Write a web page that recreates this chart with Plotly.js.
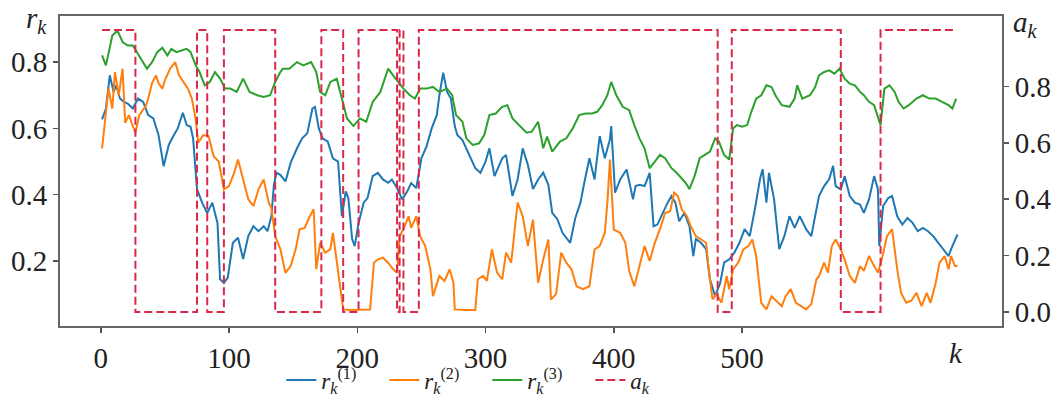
<!DOCTYPE html>
<html>
<head>
<meta charset="utf-8">
<script src="https://cdn.plot.ly/plotly-3.0.1.min.js"></script>
<style>html,body{margin:0;padding:0;background:#fff;}#chart{width:1051px;height:398px;}</style>
</head>
<body>
<div id="chart"></div>
<script>
// r_k^(1) (blue)
const k1 = [1,4,7,10,12,15,18,21,25,29,33,37,41,45,49,53,57,60,64,67,70,72,75,79,83,87,91,93,96,99,103,107,111,115,119,123,127,130,133,135,137,140,144,148,153,157,161,165,167,170,173,177,181,185,188,191,193,196,198,201,205,208,212,216,220,224,227,231,235,239,242,246,250,254,258,262,264,267,270,273,276,278,282,286,292,296,300,303,307,313,316,321,325,329,333,337,341,345,349,352,356,360,366,370,374,377,381,385,389,393,397,398,401,405,410,415,417,420,424,428,431,434,438,442,445,448,451,455,459,462,464,468,472,475,479,483,486,490,494,498,502,506,510,514,516,519,521,525,529,533,537,541,545,550,554,557,560,564,568,571,573,577,580,584,588,592,595,599,603,606,607,610,614,617,621,625,629,633,637,641,645,649,653,657,661,663,665,668];
const r1 = [0.627,0.66,0.76,0.71,0.73,0.69,0.68,0.675,0.66,0.69,0.68,0.64,0.63,0.58,0.486,0.55,0.58,0.60,0.647,0.61,0.605,0.57,0.417,0.376,0.345,0.376,0.315,0.145,0.134,0.15,0.255,0.27,0.206,0.275,0.305,0.29,0.305,0.29,0.335,0.43,0.466,0.46,0.44,0.496,0.54,0.57,0.585,0.66,0.665,0.60,0.57,0.56,0.51,0.50,0.335,0.41,0.39,0.266,0.245,0.315,0.376,0.39,0.456,0.466,0.446,0.436,0.446,0.42,0.386,0.41,0.435,0.42,0.51,0.546,0.60,0.64,0.70,0.768,0.71,0.69,0.607,0.58,0.565,0.53,0.48,0.466,0.50,0.54,0.456,0.51,0.52,0.396,0.446,0.54,0.49,0.417,0.446,0.466,0.43,0.345,0.326,0.285,0.255,0.33,0.376,0.436,0.51,0.446,0.577,0.51,0.567,0.607,0.406,0.446,0.476,0.386,0.426,0.43,0.426,0.466,0.305,0.31,0.345,0.376,0.396,0.376,0.32,0.345,0.305,0.215,0.266,0.255,0.236,0.145,0.094,0.134,0.195,0.205,0.225,0.255,0.296,0.275,0.356,0.447,0.477,0.376,0.466,0.386,0.236,0.275,0.335,0.30,0.335,0.296,0.275,0.335,0.396,0.426,0.447,0.487,0.426,0.416,0.456,0.396,0.376,0.37,0.345,0.386,0.456,0.416,0.245,0.366,0.39,0.396,0.335,0.31,0.33,0.315,0.29,0.30,0.29,0.275,0.255,0.236,0.215,0.236,0.255,0.28];

// r_k^(2) (orange)
const k2 = [1,4,6,9,11,14,17,19,22,24,27,30,32,35,37,40,43,45,48,50,54,58,61,65,68,71,74,76,80,84,88,92,96,100,104,107,111,115,119,123,127,131,133,136,140,144,148,152,155,159,163,166,168,171,175,179,181,184,187,189,194,199,205,210,213,216,220,224,228,231,233,236,240,242,246,249,253,257,259,262,264,268,272,275,276,284,292,294,298,301,305,309,313,316,320,325,329,333,337,341,345,349,351,355,359,363,367,371,376,381,385,389,393,395,397,400,405,409,412,416,420,424,428,432,436,440,444,447,450,453,457,460,464,468,472,474,477,480,484,488,490,493,497,501,505,508,511,515,519,523,527,531,534,538,542,546,550,554,558,560,564,567,570,573,577,580,584,588,592,595,599,603,606,609,613,617,619,621,624,628,632,636,640,644,647,651,654,658,661,663,666,668];
const r2 = [0.54,0.64,0.72,0.66,0.77,0.70,0.78,0.617,0.64,0.617,0.587,0.64,0.65,0.667,0.69,0.737,0.76,0.737,0.72,0.745,0.78,0.80,0.76,0.737,0.72,0.69,0.627,0.557,0.58,0.577,0.516,0.50,0.416,0.426,0.466,0.506,0.446,0.386,0.366,0.416,0.446,0.376,0.36,0.275,0.236,0.164,0.185,0.236,0.296,0.30,0.335,0.356,0.175,0.255,0.225,0.236,0.285,0.195,0.104,0.054,0.052,0.052,0.052,0.054,0.195,0.205,0.21,0.195,0.175,0.165,0.275,0.296,0.335,0.30,0.335,0.275,0.245,0.175,0.094,0.134,0.155,0.14,0.175,0.134,0.054,0.052,0.052,0.145,0.155,0.14,0.235,0.165,0.145,0.225,0.195,0.376,0.335,0.245,0.325,0.134,0.205,0.265,0.084,0.10,0.225,0.195,0.175,0.124,0.115,0.124,0.235,0.245,0.285,0.376,0.506,0.295,0.285,0.255,0.17,0.124,0.185,0.245,0.20,0.255,0.296,0.345,0.35,0.406,0.396,0.356,0.335,0.305,0.275,0.265,0.255,0.175,0.084,0.10,0.074,0.155,0.115,0.175,0.195,0.235,0.245,0.265,0.215,0.074,0.054,0.094,0.08,0.064,0.094,0.115,0.074,0.064,0.054,0.07,0.145,0.154,0.195,0.165,0.245,0.265,0.235,0.205,0.155,0.134,0.185,0.17,0.215,0.185,0.165,0.205,0.275,0.296,0.235,0.175,0.104,0.074,0.08,0.104,0.064,0.104,0.074,0.134,0.195,0.215,0.175,0.215,0.185,0.185];

// r_k^(3) (green)
const k3 = [1,4,9,13,17,21,25,31,36,40,44,48,52,55,59,63,67,70,74,77,81,85,89,93,97,101,106,111,116,122,127,132,136,140,142,147,153,158,164,168,171,175,179,184,188,192,197,202,207,212,218,224,228,232,236,241,245,249,254,259,264,270,274,277,282,285,290,295,299,303,308,313,317,321,327,332,336,341,345,348,352,358,363,368,373,378,383,387,391,395,398,402,407,412,416,420,424,428,432,436,440,445,449,453,456,459,463,467,471,475,479,482,486,490,493,496,500,504,507,511,515,519,523,526,531,537,541,543,547,553,557,560,564,568,572,576,580,584,588,592,595,599,603,606,608,611,615,619,622,626,630,636,641,646,651,656,661,664,667];
const r3 = [0.82,0.79,0.88,0.895,0.86,0.85,0.85,0.81,0.78,0.80,0.83,0.843,0.82,0.84,0.83,0.835,0.84,0.83,0.79,0.77,0.73,0.74,0.77,0.75,0.72,0.72,0.71,0.75,0.71,0.70,0.695,0.70,0.74,0.77,0.78,0.78,0.80,0.79,0.80,0.77,0.71,0.70,0.74,0.75,0.69,0.63,0.607,0.63,0.62,0.68,0.71,0.78,0.76,0.74,0.72,0.70,0.69,0.72,0.72,0.725,0.71,0.72,0.70,0.64,0.62,0.57,0.55,0.555,0.58,0.64,0.645,0.665,0.67,0.63,0.607,0.587,0.59,0.62,0.54,0.575,0.53,0.56,0.57,0.60,0.64,0.645,0.645,0.65,0.67,0.70,0.74,0.70,0.665,0.655,0.61,0.57,0.54,0.48,0.50,0.52,0.51,0.48,0.466,0.447,0.436,0.417,0.456,0.51,0.52,0.53,0.57,0.56,0.52,0.506,0.60,0.61,0.605,0.61,0.647,0.69,0.70,0.73,0.725,0.70,0.67,0.665,0.69,0.73,0.69,0.70,0.725,0.76,0.77,0.775,0.765,0.78,0.75,0.735,0.73,0.71,0.70,0.68,0.67,0.63,0.61,0.72,0.73,0.71,0.68,0.66,0.67,0.69,0.70,0.69,0.69,0.68,0.67,0.66,0.69];

// a_k switching points (value holds until next point)
const kA = [1,27,75,83,96,136,172,189,201,231,233,236,248,481,492,577,608,667];
const aK = [1,0,1,0,1,0,1,0,1,0,1,0,1,0,1,0,1,1];

const xTicks = [0,100,200,300,400,500];
const yTicksL = [0.2,0.4,0.6,0.8];
const yTicksR = [0.0,0.2,0.4,0.6,0.8];

const serif = '"Liberation Serif", "Times New Roman", serif';
const tf = {family: serif, size: 29, color: '#222'};

const traces = [
  {x: k1, y: r1, type: 'scatter', mode: 'lines', name: '<i>r</i><sub><i>k</i></sub><sup>(1)</sup>', line: {color: '#1f77b4', width: 2}},
  {x: k2, y: r2, type: 'scatter', mode: 'lines', name: '<i>r</i><sub><i>k</i></sub><sup>(2)</sup>', line: {color: '#ff7f0e', width: 2}},
  {x: k3, y: r3, type: 'scatter', mode: 'lines', name: '<i>r</i><sub><i>k</i></sub><sup>(3)</sup>', line: {color: '#2ca02c', width: 2}},
  {x: kA, y: aK, type: 'scatter', mode: 'lines', yaxis: 'y2', name: '<i>a</i><sub><i>k</i></sub>', line: {color: '#d8294b', width: 2, dash: '8px,4px', shape: 'hv'}}
];

const layout = {
  width: 1051, height: 398,
  margin: {l: 60, r: 49, t: 16, b: 72, autoexpand: false},
  paper_bgcolor: '#fff', plot_bgcolor: '#fff',
  showlegend: true,
  legend: {orientation: 'h', x: 0.235, xanchor: 'left', y: -0.174, yanchor: 'middle',
           font: {family: serif, size: 23, color: '#222'}, entrywidth: 58, entrywidthmode: 'pixels', bgcolor: 'rgba(0,0,0,0)'},
  xaxis: {range: [-31.8, 702.7], tickvals: xTicks, ticktext: xTicks.map(String), ticks: 'outside', ticklen: 5, tickwidth: 1.5, tickcolor: '#555',
          showgrid: false, zeroline: false, showline: true, linecolor: '#666', linewidth: 2, mirror: true, tickfont: tf, automargin: false},
  yaxis: {range: [0.004, 0.939], tickvals: yTicksL, ticktext: yTicksL.map(v => v.toFixed(1)), ticks: 'outside', ticklen: 5, tickwidth: 1.5, tickcolor: '#555',
          showgrid: false, zeroline: false, showline: true, linecolor: '#666', linewidth: 2, tickfont: tf, automargin: false},
  yaxis2: {range: [-0.05, 1.05], overlaying: 'y', side: 'right', tickvals: yTicksR, ticktext: yTicksR.map(v => v.toFixed(1)), ticks: 'outside', ticklen: 5, tickwidth: 1.5, tickcolor: '#555',
           showgrid: false, zeroline: false, showline: true, linecolor: '#666', linewidth: 2, tickfont: tf, automargin: false},
  annotations: [
    {xref: 'paper', yref: 'paper', x: -0.012, y: 1.05, xanchor: 'right', yanchor: 'top', showarrow: false,
     text: '<i>r</i><sub><i>k</i></sub>', font: {family: serif, size: 29, color: '#222'}},
    {xref: 'paper', yref: 'paper', x: 1.01, y: 1.04, xanchor: 'left', yanchor: 'top', showarrow: false,
     text: '<i>a</i><sub><i>k</i></sub>', font: {family: serif, size: 29, color: '#222'}},
    {xref: 'x', yref: 'paper', x: 667, y: -0.03, xanchor: 'center', yanchor: 'top', showarrow: false,
     text: '<i>k</i>', font: {family: serif, size: 29, color: '#222'}}
  ]
};

Plotly.newPlot('chart', traces, layout, {displayModeBar: false, staticPlot: true});
</script>
</body>
</html>
